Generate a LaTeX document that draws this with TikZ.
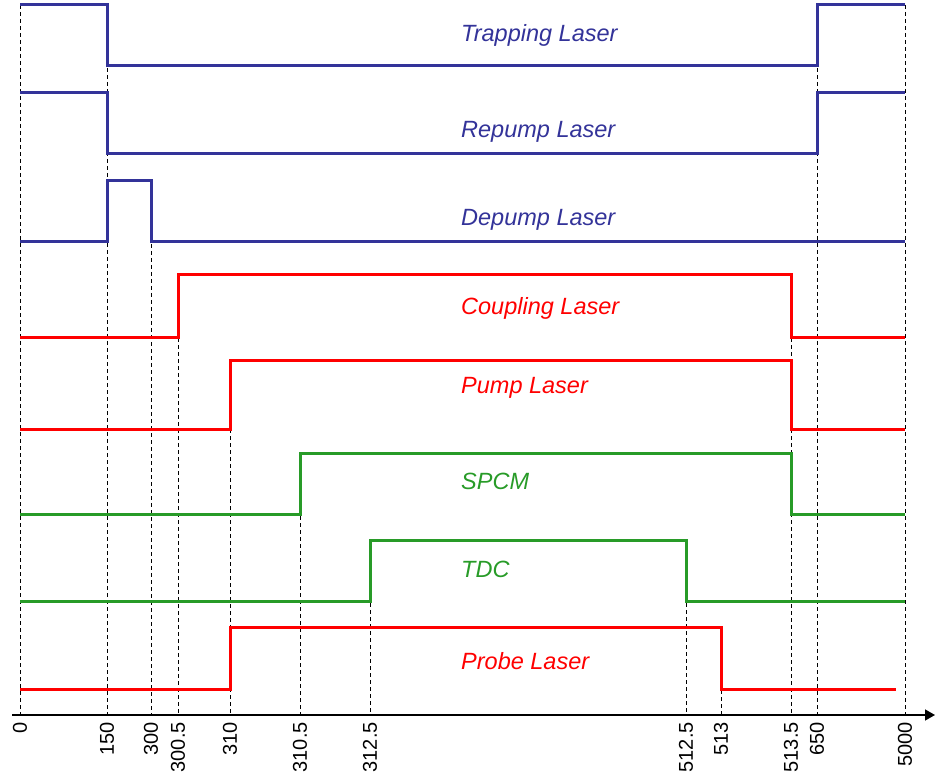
\documentclass[tikz,border=0pt]{standalone}
\usepackage{fontspec}
\setmainfont{Liberation Sans}
\usetikzlibrary{arrows.meta}
\tikzset{>={Triangle[length=10pt,width=11pt]}}
\colorlet{background}{white}
\definecolor{trapColor}{RGB}{51,51,153}
\definecolor{laserColor}{RGB}{255,0,0}
\definecolor{detColor}{RGB}{40,155,40}
\tikzset{
  pulse/.style={line width=3pt},
  guide/.style={dash pattern=on 4pt off 3pt, line width=1pt},
  chan/.style={anchor=base west, inner sep=0pt, font=\fontsize{23.5}{27}\selectfont\itshape},
  tickmark/.style={rotate=90, anchor=east, inner sep=0pt, font=\fontsize{20}{24}\selectfont},
}

\begin{document}
\begin{tikzpicture}[x=1pt,y=-1pt]
\useasboundingbox (0,0) rectangle (935,778);
% time marks: x position / label / top of the guide line
\foreach \x/\lab/\top [count=\i] in {20/0/5, 107/150/5, 151/300/181, 178/300.5/275,
    230/310/359, 300/310.5/453, 370/312.5/540, 686/512.5/540, 721/513/627,
    791/513.5/275, 817/650/5, 905/5000/5}{
  \draw[guide] (\x,\top) -- (\x,715);
  \node[tickmark] (tick\i) at (\x,722) {\lab};
}
\draw[->, line width=1.5pt] (12,715) -- (935,715);% time axis
% cooling and repumping
\draw[pulse,trapColor] (20,5) -- (107,5) -- (107,66) -- (817,66) -- (817,5) -- (905,5);
\draw[pulse,trapColor] (20,93) -- (107,93) -- (107,154) -- (817,154) -- (817,93) -- (905,93);
\draw[pulse,trapColor] (20,242) -- (107,242) -- (107,181) -- (151,181) -- (151,242) -- (905,242);
% storage lasers
\draw[pulse,laserColor] (20,337) -- (178,337) -- (178,275) -- (791,275) -- (791,337) -- (905,337);
\draw[pulse,laserColor] (20,429) -- (230,429) -- (230,360) -- (791,360) -- (791,429) -- (905,429);
% detection
\draw[pulse,detColor] (20,514) -- (300,514) -- (300,453) -- (791,453) -- (791,514) -- (905,514);
\draw[pulse,detColor] (20,601) -- (370,601) -- (370,540) -- (686,540) -- (686,601) -- (905,601);
\draw[pulse,laserColor] (20,689) -- (230,689) -- (230,627) -- (721,627) -- (721,689) -- (896,689);
% channel names
\node[chan,trapColor] (trap) at (461,42) {Trapping Laser};
\node[chan,trapColor] (repump) at (461,138) {Repump Laser};
\node[chan,trapColor] (depump) at (461,226) {Depump Laser};
\node[chan,laserColor] (coupling) at (461,314) {Coupling Laser};
\node[chan,laserColor] (pump) at (461,393) {Pump Laser};
\node[chan,detColor] (spcm) at (461,489) {SPCM};
\node[chan,detColor] (tdc) at (461,577) {TDC};
\node[chan,laserColor] (probe) at (461,669) {Probe Laser};
\end{tikzpicture}
\end{document}
